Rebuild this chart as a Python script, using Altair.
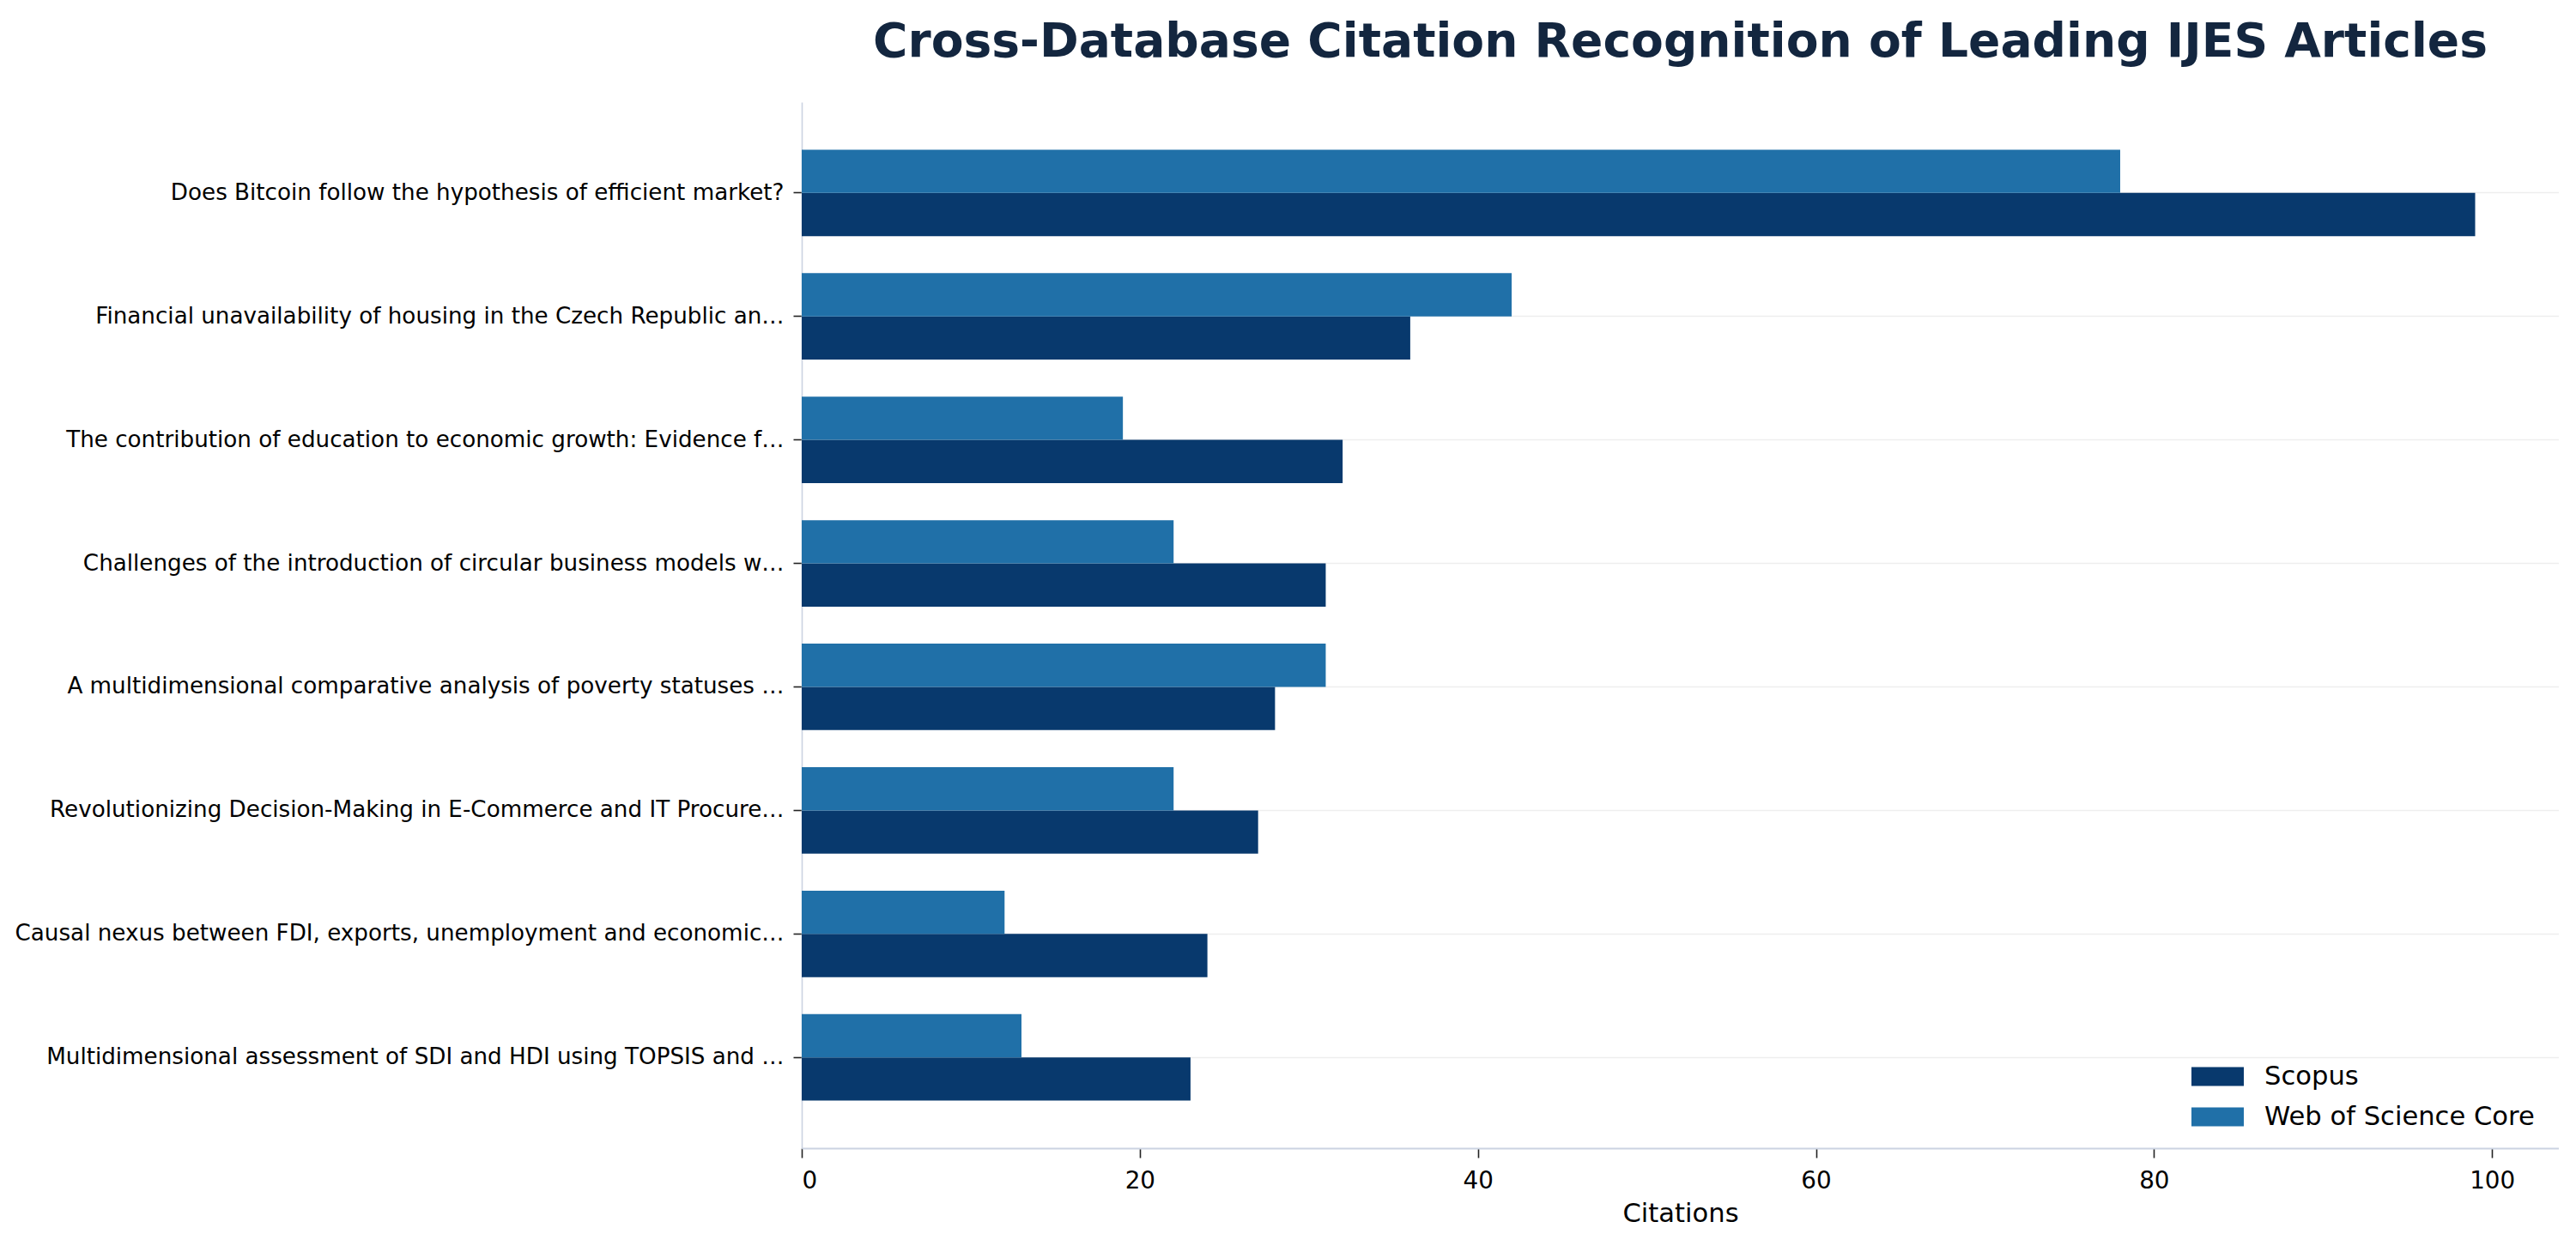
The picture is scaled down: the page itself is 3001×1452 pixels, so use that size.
import altair as alt
import pandas as pd

titles = [
    "Does Bitcoin follow the hypothesis of efficient market?",
    "Financial unavailability of housing in the Czech Republic an\u2026",
    "The contribution of education to economic growth: Evidence f\u2026",
    "Challenges of the introduction of circular business models w\u2026",
    "A multidimensional comparative analysis of poverty statuses \u2026",
    "Revolutionizing Decision-Making in E-Commerce and IT Procure\u2026",
    "Causal nexus between FDI, exports, unemployment and economic\u2026",
    "Multidimensional assessment of SDI and HDI using TOPSIS and \u2026",
]
scopus = [99, 36, 32, 31, 28, 27, 24, 23]
wos = [78, 42, 19, 22, 31, 22, 12, 13]
series = ["Scopus", "Web of Science Core"]
colors = ["#08396d", "#2070a8"]
x_ticks = [0, 20, 40, 60, 80, 100]

rows = []
for t, s, w in zip(titles, scopus, wos):
    rows.append({"article": t, "source": series[0], "citations": s})
    rows.append({"article": t, "source": series[1], "citations": w})
df = pd.DataFrame(rows)

FONT = "DejaVu Sans"

chart = alt.Chart(df).mark_bar().encode(
    y=alt.Y(
        "article:N",
        sort=titles,
        scale=alt.Scale(paddingInner=0.3, paddingOuter=0.385),
        axis=alt.Axis(
            title=None,
            bandPosition=0.5,
            grid=True,
            gridColor="#eeeeee",
            gridWidth=1.6,
            domainColor="#cbd3e1",
            domainWidth=1.6,
            tickColor="#222222",
            tickWidth=1.6,
            tickSize=10,
            labelPadding=11,
            labelFontSize=26.2,
            labelFont=FONT,
            labelColor="#000000",
            labelLimit=2000,
        ),
    ),
    yOffset=alt.YOffset("source:N", sort=[series[1], series[0]]),
    x=alt.X(
        "citations:Q",
        scale=alt.Scale(domain=[0, 103.95], nice=False, zero=True),
        axis=alt.Axis(
            title="Citations",
            values=x_ticks,
            format="d",
            grid=False,
            domainColor="#cbd3e1",
            domainWidth=2,
            tickColor="#222222",
            tickWidth=1.6,
            tickSize=11,
            labelPadding=13,
            labelFontSize=27.8,
            labelFont=FONT,
            labelColor="#000000",
            titleFontSize=30.6,
            titleFont=FONT,
            titleFontWeight="normal",
            titleColor="#000000",
            titlePadding=10,
        ),
    ),
    color=alt.Color(
        "source:N",
        scale=alt.Scale(domain=series, range=colors),
        legend=alt.Legend(
            title=None,
            orient="none",
            legendX=1619,
            legendY=1105,
            symbolType="M-1,-0.36H1V0.36H-1Z",
            symbolSize=3721,
            symbolStrokeWidth=0,
            symbolOpacity=1,
            labelFontSize=30.6,
            labelFont=FONT,
            labelColor="#000000",
            labelLimit=1000,
            labelOffset=24,
            rowPadding=-5,
        ),
    ),
).properties(
    width=2047,
    height=1219,
    title=alt.TitleParams(
        "Cross-Database Citation Recognition of Leading IJES Articles",
        fontSize=55.1,
        font=FONT,
        fontWeight="bold",
        color="#13263f",
        anchor="middle",
        offset=42,
    ),
    autosize=alt.AutoSizeParams(type="none"),
    padding={"left": 926, "top": 111, "right": 0, "bottom": 100},
).configure(background="white").configure_view(stroke=None)

chart.save("out.html", embed_options={"renderer": "svg", "actions": False})
